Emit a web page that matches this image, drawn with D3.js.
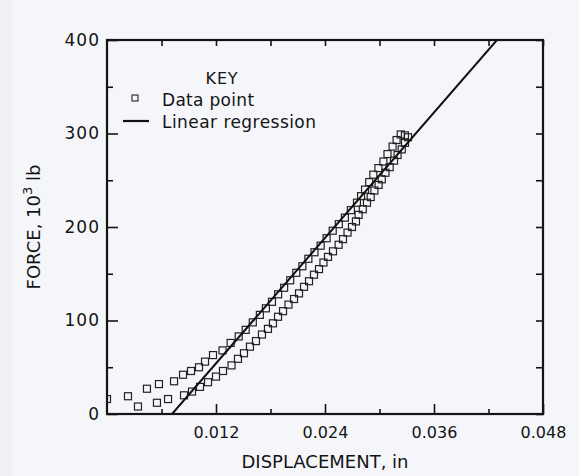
<!DOCTYPE html>
<html>
<head>
<meta charset="utf-8">
<script src="https://cdn.jsdelivr.net/npm/d3@7"></script>
<style>
  body { margin: 0; background: #f5f6fa; }
  svg { display: block; }
  text { font-family: "DejaVu Sans", sans-serif; fill: #141414; }
</style>
</head>
<body>
<div class="chart"></div>
<script>
const width = 579,
    height = 476,
    margin = {top: 40, right: 36, bottom: 62, left: 107};

// displacement (in), force (10^3 lb)
const loading = [
  [0.00000, 16], [0.00231, 19], [0.00440, 27], [0.00572, 32], [0.00738, 35],
  [0.00837, 42], [0.00925, 46], [0.01013, 50], [0.01079, 56], [0.01167, 63],
  [0.01272, 68], [0.01361, 76], [0.01450, 83], [0.01527, 90], [0.01605, 98],
  [0.01683, 106], [0.01749, 113], [0.01816, 120], [0.01884, 128], [0.01950, 135],
  [0.02017, 143], [0.02084, 151], [0.02151, 158], [0.02217, 166], [0.02284, 173],
  [0.02352, 180], [0.02418, 188], [0.02485, 196], [0.02552, 203], [0.02619, 210],
  [0.02685, 218], [0.02752, 226], [0.02797, 233], [0.02841, 240], [0.02887, 248],
  [0.02932, 256], [0.02988, 263], [0.03043, 270], [0.03088, 278], [0.03144, 286],
  [0.03188, 293], [0.03234, 299]
];
const unloading = [
  [0.00341, 8], [0.00550, 12], [0.00672, 16], [0.00848, 20], [0.00936, 24],
  [0.01024, 29], [0.01112, 34], [0.01200, 40], [0.01277, 46], [0.01371, 52],
  [0.01442, 59], [0.01508, 65], [0.01574, 72], [0.01640, 78], [0.01706, 85],
  [0.01772, 91], [0.01827, 97], [0.01883, 104], [0.01938, 110], [0.01998, 117],
  [0.02059, 123], [0.02114, 129], [0.02169, 136], [0.02224, 142], [0.02279, 149],
  [0.02334, 155], [0.02383, 162], [0.02433, 168], [0.02488, 174], [0.02550, 181],
  [0.02598, 187], [0.02648, 194], [0.02697, 200], [0.02741, 206], [0.02770, 213],
  [0.02816, 219], [0.02862, 226], [0.02903, 232], [0.02944, 239], [0.02990, 245],
  [0.03025, 251], [0.03066, 258], [0.03112, 264], [0.03160, 271], [0.03199, 277],
  [0.03245, 283], [0.03281, 290], [0.03314, 296], [0.03280, 298]
];
// fitted line end points
const regression = [[0.00716, 0], [0.04293, 400]];

const xTicks = [0.012, 0.024, 0.036, 0.048],
    xMinor = [0.006, 0.018, 0.030, 0.042],
    yTicks = [0, 100, 200, 300, 400],
    yMinor = [50, 150, 250, 350];

const x = d3.scaleLinear().domain([0, 0.048]).range([margin.left, width - margin.right]);
const y = d3.scaleLinear().domain([0, 400]).range([height - margin.bottom, margin.top]);

const svg = d3.select(".chart").append("svg")
    .attr("width", width)
    .attr("height", height);

svg.append("rect")
    .attr("width", width).attr("height", height)
    .attr("fill", "#f5f6fa");
svg.append("rect")
    .attr("width", 12).attr("height", height)
    .attr("fill", "#eef0f3");

svg.append("clipPath").attr("id", "plot")
  .append("rect")
    .attr("x", margin.left).attr("y", margin.top)
    .attr("width", width - margin.left - margin.right)
    .attr("height", height - margin.top - margin.bottom);

// inward ticks on all four sides
const tickStyle = g => {
  g.select(".domain").remove();
  g.selectAll(".tick line").attr("stroke", "#141414").attr("stroke-width", 1.6);
};

svg.append("g")
    .attr("transform", `translate(0,${y(0)})`)
    .call(d3.axisBottom(x).tickValues(xTicks).tickSize(-10).tickPadding(13).tickFormat(d => d3.format(".3f")(d)))
    .call(tickStyle)
    .call(g => g.selectAll("text").attr("font-size", 16).attr("fill", "#141414")
      .attr("font-family", "DejaVu Sans"));
svg.append("g")
    .attr("transform", `translate(0,${y(0)})`)
    .call(d3.axisBottom(x).tickValues(xMinor).tickSize(-5).tickFormat(""))
    .call(tickStyle);
svg.append("g")
    .attr("transform", `translate(0,${y(400)})`)
    .call(d3.axisTop(x).tickValues(xTicks.concat(xMinor)).tickSize(-6).tickFormat(""))
    .call(tickStyle);

svg.append("g")
    .attr("transform", `translate(${x(0)},0)`)
    .call(d3.axisLeft(y).tickValues(yTicks).tickSize(-11).tickPadding(7))
    .call(tickStyle)
    .call(g => g.selectAll("text").attr("font-size", 17).attr("fill", "#141414")
      .attr("font-family", "DejaVu Sans").attr("letter-spacing", 1));
svg.append("g")
    .attr("transform", `translate(${x(0)},0)`)
    .call(d3.axisLeft(y).tickValues(yMinor).tickSize(-6).tickFormat(""))
    .call(tickStyle);
svg.append("g")
    .attr("transform", `translate(${x(0.048)},0)`)
    .call(d3.axisRight(y).tickValues(yTicks.concat(yMinor)).tickSize(-7).tickFormat(""))
    .call(tickStyle);

// frame
svg.append("rect")
    .attr("x", x(0)).attr("y", y(400))
    .attr("width", x(0.048) - x(0)).attr("height", y(0) - y(400))
    .attr("fill", "none")
    .attr("stroke", "#141414")
    .attr("stroke-width", 2.2);

// data squares
const s = 7;
svg.append("g")
    .attr("clip-path", "url(#plot)")
  .selectAll("rect")
    .data(loading.concat(unloading))
  .enter().append("rect")
    .attr("x", d => x(d[0]) - s / 2)
    .attr("y", d => y(d[1]) - s / 2)
    .attr("width", s).attr("height", s)
    .attr("fill", "none")
    .attr("stroke", "#222")
    .attr("stroke-width", 1.2);

svg.append("path")
    .datum(regression)
    .attr("clip-path", "url(#plot)")
    .attr("fill", "none")
    .attr("stroke", "#111")
    .attr("stroke-width", 2)
    .attr("d", d3.line().x(d => x(d[0])).y(d => y(d[1])));

// key
const key = svg.append("g");
key.append("text")
    .attr("x", 222).attr("y", 84)
    .attr("text-anchor", "middle")
    .attr("font-size", 16)
    .attr("letter-spacing", 0.8)
    .text("KEY");
key.append("rect")
    .attr("x", 132).attr("y", 95).attr("width", 6).attr("height", 6)
    .attr("fill", "none").attr("stroke", "#222").attr("stroke-width", 1.1);
key.append("text")
    .attr("x", 162).attr("y", 106)
    .attr("font-size", 17)
    .attr("letter-spacing", 0.3)
    .text("Data point");
key.append("line")
    .attr("x1", 123).attr("x2", 149).attr("y1", 121).attr("y2", 121)
    .attr("stroke", "#111").attr("stroke-width", 2.2);
key.append("text")
    .attr("x", 162).attr("y", 128)
    .attr("font-size", 17)
    .attr("letter-spacing", 0.45)
    .text("Linear regression");

// axis titles
svg.append("text")
    .attr("x", (x(0) + x(0.048)) / 2).attr("y", 468)
    .attr("text-anchor", "middle")
    .attr("font-size", 18)
    .text("DISPLACEMENT, in");

const yTitle = svg.append("text")
    .attr("transform", `translate(40,${(y(0) + y(400)) / 2}) rotate(-90)`)
    .attr("text-anchor", "middle")
    .attr("font-size", 18);
yTitle.append("tspan").text("FORCE, 10");
yTitle.append("tspan").attr("dy", -8).attr("font-size", 13).text("3");
yTitle.append("tspan").attr("dy", 8).text(" lb");
</script>
</body>
</html>
